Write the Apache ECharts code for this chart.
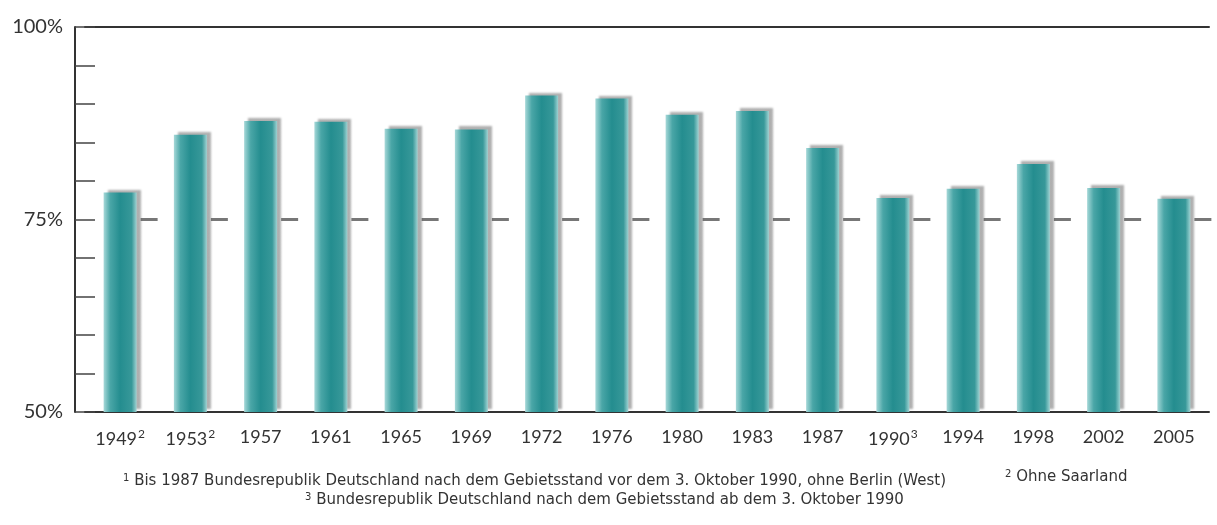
<!DOCTYPE html>
<html lang="de">
<head>
    <meta charset="utf-8" />
    <title>Wahlbeteiligung</title>
    <script src="https://cdn.jsdelivr.net/npm/echarts@6/dist/echarts.min.js"></script>
</head>
<body style="margin:0;background:#fff;">
<div id="chart" style="width:1217px;height:525px;"></div>
<script>
    // Bundestagswahlen, Beteiligung in %
    var years = ['1949','1953','1957','1961','1965','1969','1972','1976','1980','1983','1987','1990','1994','1998','2002','2005'];
    var yearNotes = ['2','2','','','','','','','','','','3','','','',''];
    var turnout = [78.5, 86.0, 87.8, 87.7, 86.8, 86.7, 91.1, 90.7, 88.6, 89.1, 84.3, 77.8, 79.0, 82.2, 79.1, 77.7];
    var refMark = [75, 75, 75, 75, 75, 75, 75, 75, 75, 75, 75, 75, 75, 75, 75, 75];
    var yTickLabels = [50, 75, 100];

    var fontFam = 'Lato, "DejaVu Sans", sans-serif';
    var noteFont = '"DejaVu Sans", sans-serif';
    var noteRich = { s: { fontSize: 10, verticalAlign: 'top', color: '#333', fontFamily: noteFont, padding: [0, 0, 6, 0] } };
    var myChart = echarts.init(document.getElementById('chart'));

    var option = {
        backgroundColor: '#fff',
        animation: false,
        title: [{
            text: '{s|1} Bis 1987 Bundesrepublik Deutschland nach dem Gebietsstand vor dem 3. Oktober 1990, ohne Berlin (West)',
            left: 118, top: 468,
            textStyle: { fontFamily: noteFont, fontSize: 15, fontWeight: 'normal', color: '#333', rich: noteRich }
        }, {
            text: '{s|2} Ohne Saarland',
            left: 1000, top: 464,
            textStyle: { fontFamily: noteFont, fontSize: 15, fontWeight: 'normal', color: '#333', rich: noteRich }
        }, {
            text: '{s|3} Bundesrepublik Deutschland nach dem Gebietsstand ab dem 3. Oktober 1990',
            left: 300, top: 487,
            textStyle: { fontFamily: noteFont, fontSize: 15, fontWeight: 'normal', color: '#333', rich: noteRich }
        }],
        grid: { left: 85, right: 8, top: 27, bottom: 113 },
        xAxis: [{
            type: 'category',
            data: years,
            axisLine: { lineStyle: { color: '#333', width: 2 } },
            axisTick: { show: false },
            axisLabel: {
                interval: 0,
                margin: 16,
                formatter: function (v, i) {
                    return yearNotes[i] ? '{y|' + v + '}{s|' + yearNotes[i] + '}' : '{y|' + v + '}';
                },
                rich: {
                    y: { fontFamily: fontFam, fontSize: 18, color: '#333' },
                    s: { fontFamily: fontFam, fontSize: 12, color: '#333', verticalAlign: 'top', padding: [0, 0, 10, 1] }
                }
            }
        }, {
            type: 'category',
            position: 'top',
            data: years,
            axisLine: { lineStyle: { color: '#333', width: 2 } },
            axisTick: { show: false },
            axisLabel: { show: false }
        }],
        yAxis: {
            type: 'value',
            min: 50, max: 100, interval: 5,
            offset: 10,
            axisLine: { show: true, lineStyle: { color: '#333', width: 2 } },
            axisTick: { show: true, inside: true, length: 20, lineStyle: { color: '#444', width: 1.5 } },
            splitLine: { show: false },
            axisLabel: {
                margin: 12,
                fontFamily: fontFam, fontSize: 20, color: '#333',
                formatter: function (v) {
                    return yTickLabels.indexOf(v) >= 0 ? v + '%' : '';
                }
            }
        },
        series: [{
            name: 'Wahlbeteiligung',
            type: 'bar',
            data: turnout,
            barWidth: 33,
            itemStyle: {
                color: new echarts.graphic.LinearGradient(0, 0, 1, 0, [
                    { offset: 0, color: '#a6d8d8' },
                    { offset: 0.2, color: '#4aa6a7' },
                    { offset: 0.5, color: '#248d8f' },
                    { offset: 0.85, color: '#379899' },
                    { offset: 1, color: '#9fd3d3' }
                ]),
                shadowColor: 'rgba(110,110,110,0.55)',
                shadowBlur: 2,
                shadowOffsetX: 4,
                shadowOffsetY: -3
            }
        }, {
            name: '75%',
            type: 'scatter',
            data: refMark,
            symbol: 'rect',
            symbolSize: [17, 3],
            symbolOffset: [29, 0],
            itemStyle: { color: '#555' },
            z: 3
        }]
    };
    myChart.setOption(option);
</script>
</body>
</html>
